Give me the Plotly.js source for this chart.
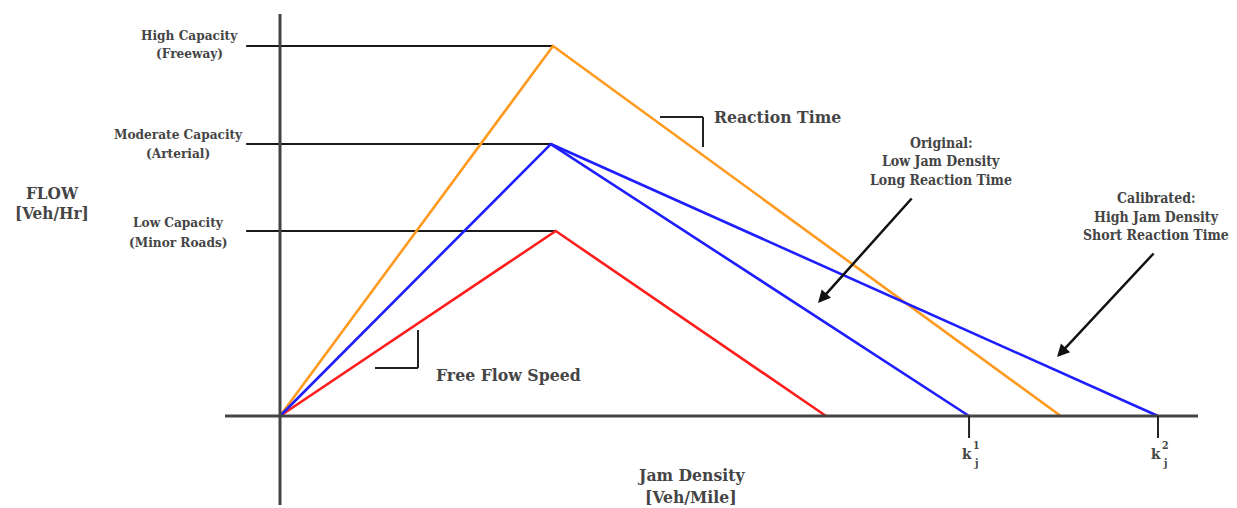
<!DOCTYPE html>
<html>
<head>
<meta charset="utf-8">
<script src="https://cdn.plot.ly/plotly-3.0.1.min.js"></script>
<style>html,body{margin:0;padding:0;background:#fff;}#chart{width:1237px;height:508px;}</style>
</head>
<body>
<div id="chart"></div>
<script>
// ---- data (diagram units: density, flow) ----
const roadTypes = ['Low Capacity (Minor Roads)', 'Moderate Capacity (Arterial)', 'High Capacity (Freeway)'];
const criticalDensity = [50.5, 49.6, 50];
const capacityFlow = [1000, 1470, 2000];
const jamDensityRed = 100;
const jamDensityOriginal = 126.2;   // k_j^1
const jamDensityOrange = 143;
const jamDensityCalibrated = 160.8; // k_j^2
const capacityLabels = [['Low Capacity', '(Minor Roads)'], ['Moderate Capacity', '(Arterial)'], ['High Capacity', '(Freeway)']];

const W = 1237, H = 508;
const FONT = '"DejaVu Serif Condensed", "DejaVu Serif", serif';
const TXT = '#454545';
const px = v => v / W;
const py = v => 1 - v / H;

const redX = [0, criticalDensity[0], jamDensityRed], redY = [0, capacityFlow[0], 0];
const blueX = [0, criticalDensity[1], jamDensityOriginal], blueY = [0, capacityFlow[1], 0];
const blue2X = [criticalDensity[1], jamDensityCalibrated], blue2Y = [capacityFlow[1], 0];
const orangeX = [0, criticalDensity[2], jamDensityOrange], orangeY = [0, capacityFlow[2], 0];

const capStart = -6.2;
const traces = [];
for (let i = 0; i < 3; i++) {
  traces.push({x: [capStart, criticalDensity[i]], y: [capacityFlow[i], capacityFlow[i]], mode: 'lines',
    line: {color: '#1a1a1a', width: 2}, hoverinfo: 'skip', showlegend: false});
}
traces.push({x: orangeX, y: orangeY, mode: 'lines', line: {color: '#ff9a1e', width: 2.6}, showlegend: false});
traces.push({x: redX, y: redY, mode: 'lines', line: {color: '#ff1e1e', width: 2.6}, showlegend: false});
traces.push({x: blueX, y: blueY, mode: 'lines', line: {color: '#1e1eff', width: 2.6}, showlegend: false});
traces.push({x: blue2X, y: blue2Y, mode: 'lines', line: {color: '#1e1eff', width: 2.6}, showlegend: false});

function txt(x, y, text, size, opts) {
  return Object.assign({xref: 'paper', yref: 'paper', x: px(x), y: py(y), text: text, showarrow: false,
    xanchor: 'center', yanchor: 'middle', font: {family: FONT, size: size, color: TXT, weight: 'bold'}}, opts || {});
}
const capLabelPos = [[178, 222, 242], [178, 134, 153], [189, 35, 53]];
const annotations = [];
for (let i = 0; i < 3; i++) {
  annotations.push(txt(capLabelPos[i][0], capLabelPos[i][1], capacityLabels[i][0], 13.5));
  annotations.push(txt(capLabelPos[i][0], capLabelPos[i][2], capacityLabels[i][1], 13.5));
}
annotations.push(txt(52, 193, 'FLOW', 17));
annotations.push(txt(52, 213, '[Veh/Hr]', 17));
annotations.push(txt(691, 475, 'Jam Density', 17.4));
annotations.push(txt(691, 497, '[Veh/Mile]', 17.4));
annotations.push(txt(712, 117, 'Reaction Time', 17.4, {xanchor: 'left'}));
annotations.push(txt(434, 375, 'Free Flow Speed', 17.5, {xanchor: 'left'}));
annotations.push(txt(941, 143, 'Original:', 14));
annotations.push(txt(941, 161, 'Low Jam Density', 14));
annotations.push(txt(941, 180, 'Long Reaction Time', 14));
annotations.push(txt(1156, 198, 'Calibrated:', 14));
annotations.push(txt(1156, 217, 'High Jam Density', 14));
annotations.push(txt(1156, 235, 'Short Reaction Time', 14));
// k_j labels
[[967, '1'], [1156, '2']].forEach(([x, s]) => {
  annotations.push(txt(x, 454, 'k', 15));
  annotations.push(txt(x + 9, 445, s, 10.5));
  annotations.push(txt(x + 9, 463, 'j', 10.5));
});
// arrows
[[818, 303, 95, -106], [1057, 357, 98, -105]].forEach(([x, y, ax, ay]) => {
  annotations.push({xref: 'paper', yref: 'paper', x: px(x), y: py(y), ax: ax, ay: ay, text: '', showarrow: true,
    arrowhead: 2, arrowsize: 1, arrowwidth: 2.5, arrowcolor: '#111'});
});

const shapes = [
  {type: 'line', xref: 'x', yref: 'paper', x0: 0, x1: 0, y0: py(14), y1: py(505), line: {color: '#444', width: 3}},
  {type: 'line', xref: 'paper', yref: 'y', x0: px(225), x1: px(1198), y0: 0, y1: 0, line: {color: '#444', width: 3}},
  {type: 'line', xref: 'x', yref: 'paper', x0: jamDensityOriginal, x1: jamDensityOriginal, y0: py(416), y1: py(438), line: {color: '#222', width: 2}},
  {type: 'line', xref: 'x', yref: 'paper', x0: jamDensityCalibrated, x1: jamDensityCalibrated, y0: py(416), y1: py(438), line: {color: '#222', width: 2}}
];
const bracket = (pts) => pts.slice(0, -1).map((p, i) => ({type: 'line', xref: 'paper', yref: 'paper',
  x0: px(p[0]), y0: py(p[1]), x1: px(pts[i + 1][0]), y1: py(pts[i + 1][1]), line: {color: '#222', width: 2}}));
bracket([[660, 117], [703, 117], [703, 147]]).forEach(s => shapes.push(s));
bracket([[418, 330], [418, 368], [375, 368]]).forEach(s => shapes.push(s));

const xScale = 5.46, yScale = 0.185, ox = 280, oy = 416;
const layout = {
  width: W, height: H, margin: {l: 0, r: 0, t: 0, b: 0},
  paper_bgcolor: '#fff', plot_bgcolor: '#fff', showlegend: false,
  xaxis: {range: [-ox / xScale, (W - ox) / xScale], visible: false, fixedrange: true},
  yaxis: {range: [-(H - oy) / yScale, oy / yScale], visible: false, fixedrange: true},
  annotations: annotations, shapes: shapes
};
Plotly.newPlot('chart', traces, layout, {staticPlot: true});
</script>
</body>
</html>
